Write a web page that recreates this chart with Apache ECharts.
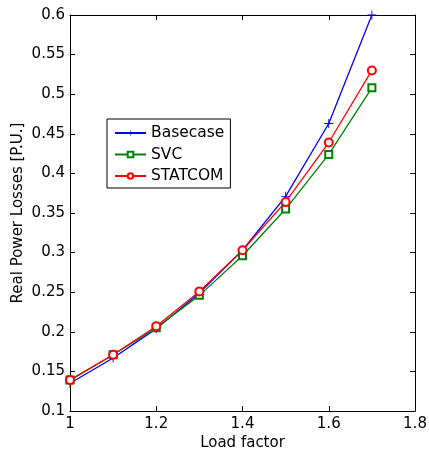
<!DOCTYPE html>
<html>
<head>
<meta charset="utf-8">
<script src="https://cdn.jsdelivr.net/npm/echarts@6/dist/echarts.min.js"></script>
<style>
  html, body { margin: 0; padding: 0; background: #fff; }
  #chart { width: 429px; height: 453px; }
</style>
</head>
<body>
<div id="chart"></div>
<script>
// Load factor steps and real power losses (p.u.) for each compensation case
const loadFactor = [1.0, 1.1, 1.2, 1.3, 1.4, 1.5, 1.6, 1.7];
const basecase = [0.135, 0.167, 0.204, 0.249, 0.303, 0.371, 0.463, 0.600];
const svc      = [0.139, 0.171, 0.205, 0.246, 0.296, 0.355, 0.424, 0.508];
const statcom  = [0.139, 0.171, 0.207, 0.251, 0.303, 0.364, 0.439, 0.530];

const seriesNames = ['Basecase', 'SVC', 'STATCOM'];

const FONT = 'DejaVu Sans';
const plusPath = 'path://M-0.1,-1H0.1V-0.1H1V0.1H0.1V1H-0.1V0.1H-1V-0.1H-0.1Z';

function pairs(ys) {
  return loadFactor.map((x, i) => [x, ys[i]]);
}

const boxAxisLine = { show: true, lineStyle: { color: '#000', width: 1 } };
const inTicks = { show: true, inside: true, length: 5, lineStyle: { color: '#000', width: 1 } };

const chart = echarts.init(document.getElementById('chart'), null, { renderer: 'canvas' });

chart.setOption({
  backgroundColor: '#fff',
  animation: false,
  grid: { left: 70, top: 15, right: 14, bottom: 42, containLabel: false, outerBoundsMode: 'none' },
  legend: {
    data: seriesNames,
    orient: 'vertical',
    left: 107,
    top: 119,
    itemWidth: 31,
    itemHeight: 7,
    itemGap: 5.5,
    padding: [6, 6, 4, 7],
    borderColor: '#000',
    borderWidth: 1,
    backgroundColor: '#fff',
    textStyle: { fontFamily: FONT, fontSize: 15.5, color: '#000', lineHeight: 16 }
  },
  xAxis: [
    {
      type: 'value', min: 1, max: 1.8, interval: 0.2, position: 'bottom',
      name: 'Load factor', nameLocation: 'middle', nameGap: 25, nameMoveOverlap: false,
      nameTextStyle: { fontFamily: FONT, fontSize: 15, color: '#000' },
      axisLine: boxAxisLine, axisTick: inTicks,
      axisLabel: { fontFamily: FONT, fontSize: 15, color: '#000', margin: 6 },
      splitLine: { show: false }
    },
    {
      type: 'value', min: 1, max: 1.8, interval: 0.2, position: 'top',
      axisLine: boxAxisLine, axisTick: inTicks,
      axisLabel: { show: false }, splitLine: { show: false }
    }
  ],
  yAxis: [
    {
      type: 'value', min: 0.1, max: 0.6, interval: 0.05, position: 'left',
      name: 'Real Power Losses [P.U.]', nameLocation: 'middle', nameGap: 44, nameMoveOverlap: false,
      nameTextStyle: { fontFamily: FONT, fontSize: 15, color: '#000' },
      axisLine: boxAxisLine, axisTick: inTicks,
      axisLabel: { fontFamily: FONT, fontSize: 15, color: '#000', margin: 5 },
      splitLine: { show: false }
    },
    {
      type: 'value', min: 0.1, max: 0.6, interval: 0.05, position: 'right',
      axisLine: boxAxisLine, axisTick: inTicks,
      axisLabel: { show: false }, splitLine: { show: false }
    }
  ],
  series: [
    {
      name: 'Basecase', type: 'line', data: pairs(basecase),
      symbol: plusPath, symbolSize: 9, showAllSymbol: true,
      lineStyle: { color: '#0000ff', width: 1.3 },
      itemStyle: { color: '#0000ff' }
    },
    {
      name: 'SVC', type: 'line', data: pairs(svc),
      symbol: 'emptyRect', symbolSize: 7, showAllSymbol: true,
      lineStyle: { color: '#008000', width: 1.3 },
      itemStyle: { color: '#008000', borderWidth: 1.2 }
    },
    {
      name: 'STATCOM', type: 'line', data: pairs(statcom),
      symbol: 'emptyCircle', symbolSize: 8, showAllSymbol: true,
      lineStyle: { color: '#ff0000', width: 1.3 },
      itemStyle: { color: '#ff0000', borderWidth: 1.2 }
    }
  ]
});
</script>
</body>
</html>
